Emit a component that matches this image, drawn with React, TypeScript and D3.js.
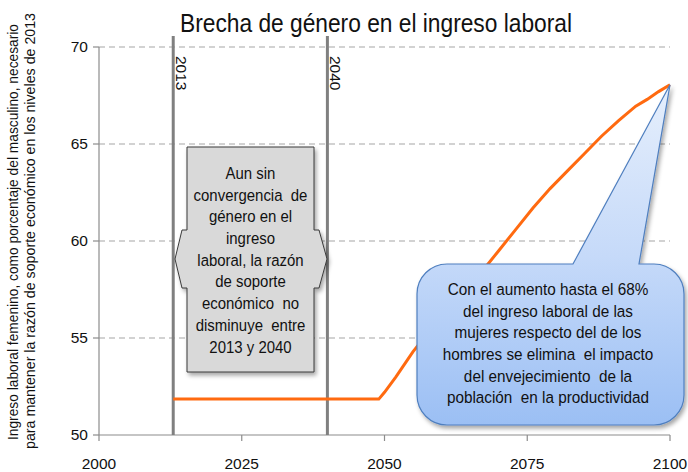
import React from "react";
import * as d3 from "d3";

// chart values
const years = [2013, 2049, 2050, 2052, 2055, 2058, 2061, 2064, 2067, 2070, 2073, 2076, 2079, 2082, 2085, 2088, 2091, 2094, 2096, 2098, 2100];
const ratio = [51.85, 51.85, 52.2, 53.0, 54.3, 55.4, 56.4, 57.4, 58.4, 59.5, 60.6, 61.7, 62.7, 63.6, 64.5, 65.4, 66.2, 66.95, 67.3, 67.7, 68.05];
const yTicks = [50, 55, 60, 65, 70];
const xTicks = [2000, 2025, 2050, 2075, 2100];
const markerYears = [2013, 2040];

const title = "Brecha de género en el ingreso laboral";
const yLabel = [
    "Ingreso laboral femenino, como porcentaje del masculino, necesario",
    "para mantener la razón de soporte económico en los niveles de 2013",
];
const boxLines = ["Aun sin", "convergencia  de", "género en el", "ingreso", "laboral, la razón", "de soporte", "económico  no", "disminuye  entre", "2013 y 2040"];
const calloutLines = [
    "Con el aumento hasta el 68%",
    "del ingreso laboral de las",
    "mujeres respecto del de los",
    "hombres se elimina  el impacto",
    "del envejecimiento  de la",
    "población  en la productividad",
];

const FONT = "'Liberation Sans', Arial, sans-serif";

export default function App() {
    const width = 688;
    const height = 472;
    const left = 99, right = 670, top = 47, bottom = 435;

    const x = d3.scaleLinear().domain([2000, 2100]).range([left, right]);
    const y = d3.scaleLinear().domain([50, 70]).range([bottom, top]);

    const line = d3.line<number>()
        .x((d, i) => x(years[i]))
        .y((d) => y(d));

    // gray box with arrows on both sides
    const bx0 = 187, bx1 = 314, by0 = 147, by1 = 372;
    const aTop = 230, aMid = 259, aBot = 288;
    const boxPath = [
        `M${bx0},${by0}`, `L${bx1},${by0}`, `L${bx1},${aTop}`, `L${bx1 + 5},${aTop}`, `L${bx1 + 13},${aMid}`,
        `L${bx1 + 5},${aBot}`, `L${bx1},${aBot}`, `L${bx1},${by1}`, `L${bx0},${by1}`, `L${bx0},${aBot}`,
        `L${bx0 - 5},${aBot}`, `L${bx0 - 12},${aMid}`, `L${bx0 - 5},${aTop}`, `L${bx0},${aTop}`, "Z",
    ].join(" ");

    // callout pointing at the last value
    const cx0 = 417, cx1 = 684, cy0 = 264, cy1 = 425, r = 30;
    const tipX = x(years[years.length - 1]);
    const tipY = y(ratio[ratio.length - 1]);
    const calloutPath = [
        `M${cx0 + r},${cy0}`, `L573,${cy0}`, `L${tipX},${tipY}`, `L639,${cy0}`, `L${cx1 - r},${cy0}`,
        `A${r},${r} 0 0 1 ${cx1},${cy0 + r}`, `L${cx1},${cy1 - r}`, `A${r},${r} 0 0 1 ${cx1 - r},${cy1}`,
        `L${cx0 + r},${cy1}`, `A${r},${r} 0 0 1 ${cx0},${cy1 - r}`, `L${cx0},${cy0 + r}`,
        `A${r},${r} 0 0 1 ${cx0 + r},${cy0}`, "Z",
    ].join(" ");

    return (
        <svg width={width} height={height} style={{ position: "absolute", left: 0, top: 0, background: "#fff" }} fontFamily={FONT}>
            <defs>
                <linearGradient id="cg" x1="0" y1="0" x2="0" y2="1">
                    <stop offset="0" stopColor="#e6effc" />
                    <stop offset="0.5" stopColor="#c6daf9" />
                    <stop offset="1" stopColor="#9bbff4" />
                </linearGradient>
                <filter id="sh" x="-10%" y="-10%" width="130%" height="130%">
                    <feDropShadow dx="2" dy="3" stdDeviation="2" floodColor="#000" floodOpacity="0.35" />
                </filter>
            </defs>

            <text x={376} y={32} textAnchor="middle" fontSize={25} fill="#111" textLength={392} lengthAdjust="spacingAndGlyphs">{title}</text>

            {/* grid */}
            {yTicks.filter((t) => t > 50).map((t) => (
                <line key={t} x1={left} x2={right} y1={y(t)} y2={y(t)} stroke="#a6a6a6" strokeWidth={1.2} strokeDasharray="6,4" />
            ))}

            {/* axes */}
            <line x1={left} x2={left} y1={top} y2={bottom} stroke="#8c8c8c" strokeWidth={1.2} />
            <line x1={left} x2={right} y1={bottom} y2={bottom} stroke="#8c8c8c" strokeWidth={1.2} />
            {yTicks.map((t) => (
                <g key={t}>
                    <line x1={left - 6} x2={left} y1={y(t)} y2={y(t)} stroke="#8c8c8c" strokeWidth={1.2} />
                    <text x={88} y={y(t) + 5} textAnchor="end" fontSize={15.5} fill="#111">{t}</text>
                </g>
            ))}
            {xTicks.map((t) => (
                <g key={t}>
                    <line x1={x(t)} x2={x(t)} y1={bottom} y2={bottom + 6} stroke="#8c8c8c" strokeWidth={1.2} />
                    <text x={x(t)} y={469} textAnchor="middle" fontSize={15.5} fill="#111">{t}</text>
                </g>
            ))}

            {/* y label */}
            <text transform="translate(18,232) rotate(-90)" textAnchor="middle" fontSize={14} fill="#111" textLength={416} lengthAdjust="spacingAndGlyphs">{yLabel[0]}</text>
            <text transform="translate(35,231) rotate(-90)" textAnchor="middle" fontSize={14} fill="#111" textLength={436} lengthAdjust="spacingAndGlyphs">{yLabel[1]}</text>

            {/* marker years */}
            {markerYears.map((m) => (
                <g key={m}>
                    <line x1={x(m)} x2={x(m)} y1={36} y2={bottom} stroke="#808080" strokeWidth={3} />
                    <text transform={`translate(${x(m) + 3},${56}) rotate(90)`} fontSize={15.5} fill="#111">{m}</text>
                </g>
            ))}

            <path d={line(ratio) || ""} fill="none" stroke="#ff6a10" strokeWidth={3} />

            <path d={boxPath} fill="#d9d9d9" stroke="#3a3a3a" strokeWidth={1} filter="url(#sh)" />
            <g transform="translate(250.5,0) scale(0.88,1)">
                {boxLines.map((s, i) => (
                    <text key={i} x={0} y={179 + i * 21.7} textAnchor="middle" fontSize={17} fill="#111" style={{ whiteSpace: "pre" }}>{s}</text>
                ))}
            </g>

            <path d={calloutPath} fill="url(#cg)" stroke="#4f7fbf" strokeWidth={1.2} filter="url(#sh)" />
            <g transform="translate(548,0) scale(0.9,1)">
                {calloutLines.map((s, i) => (
                    <text key={i} x={0} y={295 + i * 21.7} textAnchor="middle" fontSize={17} fill="#111" style={{ whiteSpace: "pre" }}>{s}</text>
                ))}
            </g>
        </svg>
    );
}
